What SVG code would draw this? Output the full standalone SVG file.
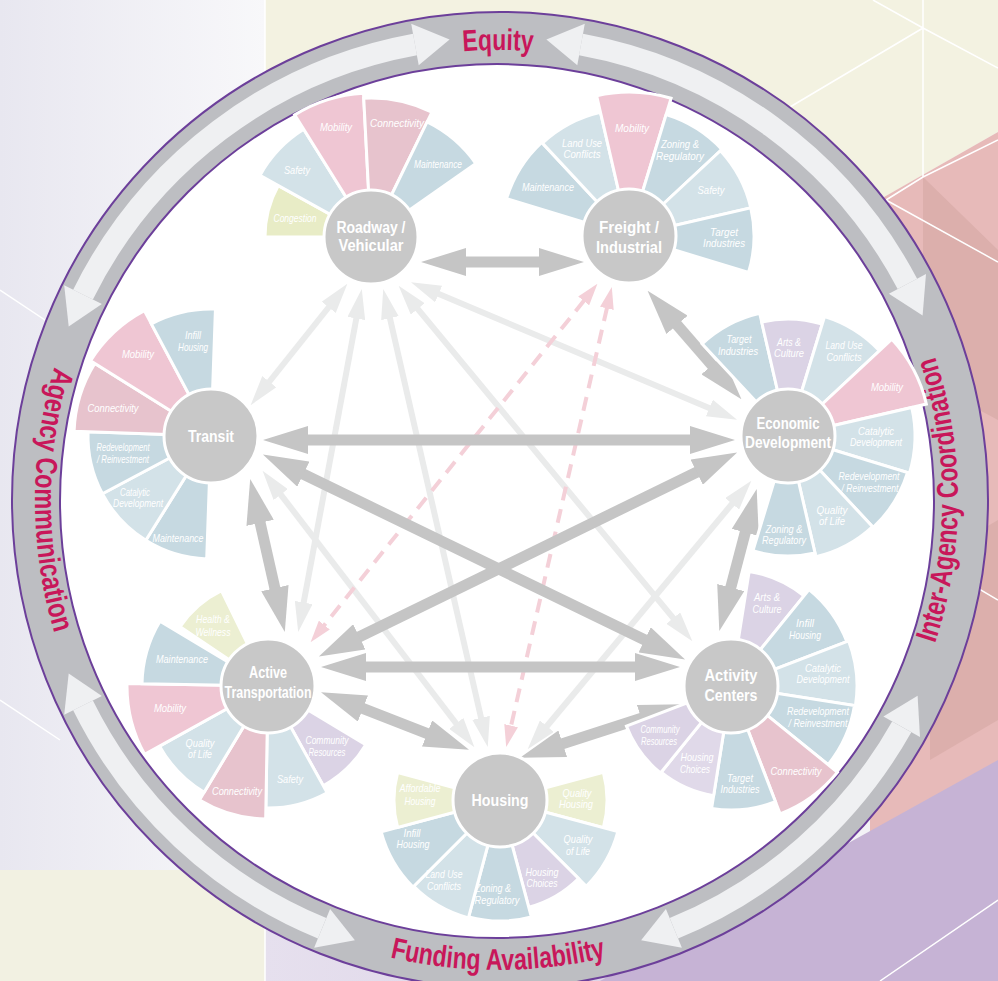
<svg xmlns="http://www.w3.org/2000/svg" width="998" height="981" viewBox="0 0 998 981">
<defs>
<style>
.wl{font-family:'Liberation Sans',Arial,sans-serif;font-style:italic;font-size:10.5px;fill:#fff;text-anchor:middle}
.nl{font-family:'Liberation Sans',Arial,sans-serif;font-weight:bold;font-size:16px;fill:#fff;text-anchor:middle}
.rt{font-family:'Liberation Sans',Arial,sans-serif;font-weight:bold;font-size:30px;fill:#c8175a}
.w{stroke:#fff;stroke-width:3}
.node{fill:#c8c8c8;stroke:#fff;stroke-width:3}
.tk{stroke:#c5c5c5;stroke-width:11;fill:none;marker-start:url(#ht);marker-end:url(#ht)}
.lt{stroke:#eaebeb;stroke-width:6;fill:none;marker-start:url(#hl);marker-end:url(#hl)}
.pk{stroke:#f4d0d8;stroke-width:4;stroke-dasharray:14 9;fill:none;marker-start:url(#hp);marker-end:url(#hp)}
.ra{stroke:#eff0f2;stroke-width:22;fill:none}
.rh{fill:#eff0f2}
.bg{stroke:#fff;stroke-width:1.5;fill:none}
.cb{fill:#c6d9e1}.cl{fill:#d3e2e8}.cm{fill:#efc6d3}.cc{fill:#e7c3cd}.cv{fill:#dbd3e5}.cw{fill:#e0d9e9}.cy{fill:#ecefd2}.cg{fill:#e8ecc6}
</style>
<linearGradient id="gl" x1="0" y1="0" x2="1" y2="0"><stop offset="0" stop-color="#e8e7f0"/><stop offset="1" stop-color="#f8f8fa"/></linearGradient>
<linearGradient id="gb" x1="0" y1="0" x2="1" y2="0"><stop offset="0" stop-color="#e6e0ee"/><stop offset="1" stop-color="#d3c6e0"/></linearGradient>
<marker id="ht" markerUnits="userSpaceOnUse" viewBox="0 0 45 28" markerWidth="45" markerHeight="28" refX="1" refY="14" orient="auto-start-reverse"><path d="M0,0L45,14L0,28Z" fill="#c5c5c5"/></marker>
<marker id="hl" markerUnits="userSpaceOnUse" viewBox="0 0 30 18" markerWidth="30" markerHeight="18" refX="1" refY="9" orient="auto-start-reverse"><path d="M0,0L30,9L0,18Z" fill="#eaebeb"/></marker>
<marker id="hp" markerUnits="userSpaceOnUse" viewBox="0 0 22 14" markerWidth="22" markerHeight="14" refX="1" refY="7" orient="auto-start-reverse"><path d="M0,0L22,7L0,14Z" fill="#f4d0d8"/></marker>
<path id="w30" d="M0,0L100,0A100,100 0 0 1 86.603,50Z" vector-effect="non-scaling-stroke"/>
<path id="w29" d="M0,0L100,0A100,100 0 0 1 87.462,48.481Z" vector-effect="non-scaling-stroke"/>
<path id="pTop" d="M108.3,275A450,450 0 0 1 887.7,275"/>
<path id="pBot" d="M91,735A470,470 0 0 0 905,735"/>
<path id="pRight" d="M728,898.4A460,460 0 0 0 728,101.6"/>
<path id="pLeft" d="M266.5,99A463,463 0 0 0 266.5,901"/>
</defs>

<g id="background">
<rect width="998" height="981" fill="#f3f2f6"/>
<rect x="0" y="0" width="265" height="981" fill="url(#gl)"/>
<polygon points="265,0 998,0 998,132 886,196 265,196" fill="#f3f2e1"/>
<polygon points="870,205 998,132 998,860 870,860" fill="#e7bab9"/>
<polygon points="923,177 998,250 998,420 923,380" fill="#dcafac"/>
<polygon points="930,560 998,520 998,720 930,760" fill="#dcafac"/>
<polygon points="265,900 998,900 998,981 265,981" fill="url(#gb)"/>
<polygon points="600,981 998,760 998,981" fill="#c6b3d5"/>
<polygon points="0,870 265,870 265,981 0,981" fill="#f2f1e2"/>
<path class="bg" d="M873,0L923,28L998,68M923,0V177M923,28L790,107M923,177L998,140M923,177L886,200M886,200L998,262M930,560L998,600M0,290L60,330M0,700L60,740M265,0V981M880,981L998,900"/>
</g>

<g id="ring">
<circle cx="500" cy="500" r="488" fill="#bdbec2" stroke="#6c3f9a" stroke-width="2"/>
<g id="ring-arrows">
<path class="ra" d="M581,44.5A463,463 0 0 1 907.4,283.9"/>
<polygon class="rh" points="546.4,39.5 584.8,23.8 577.3,65.2"/>
<polygon class="rh" points="922.6,315.4 926,274 888.9,293.7"/>
<path class="ra" d="M901.7,726.8A463,463 0 0 1 673.9,928.3"/>
<polygon class="rh" points="917.6,695.7 920,737.1 883.4,716.5"/>
<polygon class="rh" points="641.1,940.3 681.9,947.7 665.9,908.9"/>
<path class="ra" d="M322.1,928.3A463,463 0 0 1 83,705.4"/>
<polygon class="rh" points="354.9,940.3 314.1,947.7 330.1,908.9"/>
<polygon class="rh" points="68.7,673.4 64.2,714.7 101.9,696.1"/>
<path class="ra" d="M83,294.6A463,463 0 0 1 415,44.5"/>
<polygon class="rh" points="68.7,326.6 64.2,285.3 101.9,303.9"/>
<polygon class="rh" points="449.6,39.5 411.2,23.8 418.7,65.2"/>
</g>
<circle cx="497" cy="501" r="437" fill="#fff" stroke="#6c3f9a" stroke-width="2"/>
<text class="rt"><textPath href="#pTop" startOffset="50%" text-anchor="middle" textLength="70" lengthAdjust="spacingAndGlyphs">Equity</textPath></text>
<text class="rt"><textPath href="#pRight" startOffset="50%" text-anchor="middle" textLength="292" lengthAdjust="spacingAndGlyphs">Inter-Agency Coordination</textPath></text>
<text class="rt"><textPath href="#pBot" startOffset="50%" text-anchor="middle" textLength="218" lengthAdjust="spacingAndGlyphs">Funding Availability</textPath></text>
<text class="rt"><textPath href="#pLeft" startOffset="50%" text-anchor="middle" textLength="270" lengthAdjust="spacingAndGlyphs">Agency Communication</textPath></text>
</g>

<g id="connectors">
<line class="lt" x1="329.3" y1="306.5" x2="268.7" y2="382.5"/>
<line class="lt" x1="437.7" y1="293.6" x2="710.3" y2="408.4"/>
<line class="lt" x1="356.5" y1="317.5" x2="303.5" y2="603.5"/>
<line class="lt" x1="389.7" y1="317.2" x2="481.3" y2="718.8"/>
<line class="lt" x1="417.1" y1="308.1" x2="673.9" y2="618.9"/>
<line class="lt" x1="280.2" y1="493.8" x2="456.8" y2="724.2"/>
<line class="lt" x1="732.8" y1="503" x2="546.2" y2="727"/>
<line class="pk" x1="584.3" y1="300.2" x2="323.7" y2="625.8"/>
<line class="pk" x1="607.1" y1="307.4" x2="510.9" y2="726.6"/>
<line class="tk" x1="465" y1="262" x2="540" y2="262"/>
<line class="tk" x1="676.4" y1="324.1" x2="712.6" y2="365.9"/>
<line class="tk" x1="307" y1="440" x2="691" y2="440"/>
<line class="tk" x1="745.5" y1="531.5" x2="730.5" y2="588.5"/>
<line class="tk" x1="642.2" y1="717.9" x2="561.8" y2="744.1"/>
<line class="tk" x1="428" y1="733.8" x2="362" y2="708.2"/>
<line class="tk" x1="275.1" y1="589.1" x2="259.9" y2="521.9"/>
<line class="tk" x1="365" y1="667" x2="636" y2="667"/>
<line class="tk" x1="302.5" y1="473.7" x2="645.5" y2="640.3"/>
<line class="tk" x1="358.4" y1="637.3" x2="697.6" y2="471.7"/>
</g>

<g id="node-roadway">
<use href="#w29" class="w cg" transform="translate(371,237) rotate(180) scale(1.06)"/>
<use href="#w29" class="w cl" transform="translate(371,237) rotate(209) scale(1.27)"/>
<use href="#w29" class="w cm" transform="translate(371,237) rotate(238) scale(1.44)"/>
<use href="#w29" class="w cc" transform="translate(371,237) rotate(267) scale(1.39)"/>
<use href="#w29" class="w cb" transform="translate(371,237) rotate(296) scale(1.28)"/>
<circle class="node" cx="371" cy="237" r="47"/>
<text class="wl" x="295" y="222" textLength="43" lengthAdjust="spacingAndGlyphs">Congestion</text>
<text class="wl" x="297" y="174" textLength="26" lengthAdjust="spacingAndGlyphs">Safety</text>
<text class="wl" x="336" y="131" textLength="32" lengthAdjust="spacingAndGlyphs">Mobility</text>
<text class="wl" x="397" y="127" textLength="54" lengthAdjust="spacingAndGlyphs">Connectivity</text>
<text class="wl" x="438" y="168" textLength="48" lengthAdjust="spacingAndGlyphs">Maintenance</text>
<text class="nl" x="371" y="233" textLength="69" lengthAdjust="spacingAndGlyphs">Roadway /</text>
<text class="nl" x="371" y="251" textLength="65" lengthAdjust="spacingAndGlyphs">Vehicular</text>
</g>

<g id="node-freight">
<use href="#w30" class="w cb" transform="translate(629,236) rotate(197) scale(1.28)"/>
<use href="#w30" class="w cl" transform="translate(629,236) rotate(227) scale(1.27)"/>
<use href="#w30" class="w cm" transform="translate(629,236) rotate(257) scale(1.44)"/>
<use href="#w30" class="w cb" transform="translate(629,236) rotate(287) scale(1.27)"/>
<use href="#w30" class="w cl" transform="translate(629,236) rotate(317) scale(1.25)"/>
<use href="#w30" class="w cb" transform="translate(629,236) rotate(347) scale(1.25)"/>
<circle class="node" cx="629" cy="236" r="47"/>
<text class="wl" x="548" y="191" textLength="52" lengthAdjust="spacingAndGlyphs">Maintenance</text>
<text class="wl" x="582" y="147" textLength="40" lengthAdjust="spacingAndGlyphs">Land Use</text>
<text class="wl" x="582" y="158" textLength="37" lengthAdjust="spacingAndGlyphs">Conflicts</text>
<text class="wl" x="632" y="132" textLength="34" lengthAdjust="spacingAndGlyphs">Mobility</text>
<text class="wl" x="680" y="148" textLength="38" lengthAdjust="spacingAndGlyphs">Zoning &amp;</text>
<text class="wl" x="680" y="160" textLength="48" lengthAdjust="spacingAndGlyphs">Regulatory</text>
<text class="wl" x="711" y="194" textLength="27" lengthAdjust="spacingAndGlyphs">Safety</text>
<text class="wl" x="724" y="236" textLength="28" lengthAdjust="spacingAndGlyphs">Target</text>
<text class="wl" x="724" y="247" textLength="42" lengthAdjust="spacingAndGlyphs">Industries</text>
<text class="nl" x="629" y="233" textLength="60" lengthAdjust="spacingAndGlyphs">Freight /</text>
<text class="nl" x="629" y="253" textLength="66" lengthAdjust="spacingAndGlyphs">Industrial</text>
</g>

<g id="node-transit">
<use href="#w30" class="w cb" transform="translate(211,436) rotate(92) scale(1.23)"/>
<use href="#w30" class="w cl" transform="translate(211,436) rotate(122) scale(1.23)"/>
<use href="#w30" class="w cb" transform="translate(211,436) rotate(152) scale(1.23)"/>
<use href="#w30" class="w cc" transform="translate(211,436) rotate(182) scale(1.37)"/>
<use href="#w30" class="w cm" transform="translate(211,436) rotate(212) scale(1.42)"/>
<use href="#w30" class="w cb" transform="translate(211,436) rotate(242) scale(1.27)"/>
<circle class="node" cx="211" cy="436" r="47"/>
<text class="wl" x="193" y="339" textLength="16" lengthAdjust="spacingAndGlyphs">Infill</text>
<text class="wl" x="193" y="351" textLength="30" lengthAdjust="spacingAndGlyphs">Housing</text>
<text class="wl" x="138" y="358" textLength="32" lengthAdjust="spacingAndGlyphs">Mobility</text>
<text class="wl" x="113" y="412" textLength="51" lengthAdjust="spacingAndGlyphs">Connectivity</text>
<text class="wl" x="123" y="451" textLength="53" lengthAdjust="spacingAndGlyphs">Redevelopment</text>
<text class="wl" x="123" y="463" textLength="52" lengthAdjust="spacingAndGlyphs">/ Reinvestment</text>
<text class="wl" x="135" y="496" textLength="30" lengthAdjust="spacingAndGlyphs">Catalytic</text>
<text class="wl" x="138" y="507" textLength="50" lengthAdjust="spacingAndGlyphs">Development</text>
<text class="wl" x="178" y="542" textLength="51" lengthAdjust="spacingAndGlyphs">Maintenance</text>
<text class="nl" x="211" y="442" textLength="46" lengthAdjust="spacingAndGlyphs">Transit</text>
</g>

<g id="node-economic">
<use href="#w30" class="w cb" transform="translate(788,436) rotate(227) scale(1.26)"/>
<use href="#w30" class="w cv" transform="translate(788,436) rotate(257) scale(1.17)"/>
<use href="#w30" class="w cl" transform="translate(788,436) rotate(287) scale(1.25)"/>
<use href="#w30" class="w cm" transform="translate(788,436) rotate(317) scale(1.42)"/>
<use href="#w30" class="w cl" transform="translate(788,436) rotate(347) scale(1.27)"/>
<use href="#w30" class="w cb" transform="translate(788,436) rotate(17) scale(1.25)"/>
<use href="#w30" class="w cl" transform="translate(788,436) rotate(47) scale(1.24)"/>
<use href="#w30" class="w cb" transform="translate(788,436) rotate(77) scale(1.2)"/>
<circle class="node" cx="788" cy="436" r="47"/>
<text class="wl" x="739" y="343" textLength="25" lengthAdjust="spacingAndGlyphs">Target</text>
<text class="wl" x="738" y="355" textLength="40" lengthAdjust="spacingAndGlyphs">Industries</text>
<text class="wl" x="789" y="346" textLength="24" lengthAdjust="spacingAndGlyphs">Arts &amp;</text>
<text class="wl" x="789" y="357" textLength="30" lengthAdjust="spacingAndGlyphs">Culture</text>
<text class="wl" x="844" y="349" textLength="37" lengthAdjust="spacingAndGlyphs">Land Use</text>
<text class="wl" x="844" y="361" textLength="35" lengthAdjust="spacingAndGlyphs">Conflicts</text>
<text class="wl" x="887" y="391" textLength="32" lengthAdjust="spacingAndGlyphs">Mobility</text>
<text class="wl" x="876" y="435" textLength="36" lengthAdjust="spacingAndGlyphs">Catalytic</text>
<text class="wl" x="876" y="446" textLength="52" lengthAdjust="spacingAndGlyphs">Development</text>
<text class="wl" x="869" y="480" textLength="61" lengthAdjust="spacingAndGlyphs">Redevelopment</text>
<text class="wl" x="870" y="492" textLength="57" lengthAdjust="spacingAndGlyphs">/ Reinvestment</text>
<text class="wl" x="832" y="514" textLength="31" lengthAdjust="spacingAndGlyphs">Quality</text>
<text class="wl" x="832" y="525" textLength="26" lengthAdjust="spacingAndGlyphs">of Life</text>
<text class="wl" x="784" y="533" textLength="37" lengthAdjust="spacingAndGlyphs">Zoning &amp;</text>
<text class="wl" x="784" y="544" textLength="44" lengthAdjust="spacingAndGlyphs">Regulatory</text>
<text class="nl" x="788" y="429" textLength="63" lengthAdjust="spacingAndGlyphs">Economic</text>
<text class="nl" x="788" y="448" textLength="86" lengthAdjust="spacingAndGlyphs">Development</text>
</g>

<g id="node-active">
<use href="#w30" class="w cv" transform="translate(268,686) rotate(31) scale(1.14)"/>
<use href="#w30" class="w cl" transform="translate(268,686) rotate(61) scale(1.22)"/>
<use href="#w30" class="w cc" transform="translate(268,686) rotate(91) scale(1.33)"/>
<use href="#w30" class="w cl" transform="translate(268,686) rotate(121) scale(1.24)"/>
<use href="#w30" class="w cm" transform="translate(268,686) rotate(151) scale(1.41)"/>
<use href="#w30" class="w cb" transform="translate(268,686) rotate(181) scale(1.26)"/>
<use href="#w30" class="w cy" transform="translate(268,686) rotate(214) scale(1.06)"/>
<circle class="node" cx="268" cy="686" r="47"/>
<text class="wl" x="213" y="623" textLength="34" lengthAdjust="spacingAndGlyphs">Health &amp;</text>
<text class="wl" x="213" y="636" textLength="35" lengthAdjust="spacingAndGlyphs">Wellness</text>
<text class="wl" x="182" y="663" textLength="52" lengthAdjust="spacingAndGlyphs">Maintenance</text>
<text class="wl" x="170" y="712" textLength="32" lengthAdjust="spacingAndGlyphs">Mobility</text>
<text class="wl" x="200" y="747" textLength="29" lengthAdjust="spacingAndGlyphs">Quality</text>
<text class="wl" x="200" y="758" textLength="24" lengthAdjust="spacingAndGlyphs">of Life</text>
<text class="wl" x="237" y="795" textLength="50" lengthAdjust="spacingAndGlyphs">Connectivity</text>
<text class="wl" x="290" y="783" textLength="26" lengthAdjust="spacingAndGlyphs">Safety</text>
<text class="wl" x="327" y="744" textLength="43" lengthAdjust="spacingAndGlyphs">Community</text>
<text class="wl" x="327" y="756" textLength="37" lengthAdjust="spacingAndGlyphs">Resources</text>
<text class="nl" x="268" y="678" textLength="38" lengthAdjust="spacingAndGlyphs">Active</text>
<text class="nl" x="268" y="698" textLength="87" lengthAdjust="spacingAndGlyphs">Transportation</text>
</g>

<g id="node-activity">
<use href="#w30" class="w cv" transform="translate(731,686) rotate(279) scale(1.16)"/>
<use href="#w30" class="w cb" transform="translate(731,686) rotate(309) scale(1.24)"/>
<use href="#w30" class="w cl" transform="translate(731,686) rotate(339) scale(1.26)"/>
<use href="#w30" class="w cb" transform="translate(731,686) rotate(9) scale(1.25)"/>
<use href="#w30" class="w cc" transform="translate(731,686) rotate(39) scale(1.37)"/>
<use href="#w30" class="w cb" transform="translate(731,686) rotate(69) scale(1.24)"/>
<use href="#w30" class="w cw" transform="translate(731,686) rotate(99) scale(1.11)"/>
<use href="#w30" class="w cv" transform="translate(731,686) rotate(129) scale(1.12)"/>
<circle class="node" cx="731" cy="686" r="47"/>
<text class="wl" x="767" y="601" textLength="26" lengthAdjust="spacingAndGlyphs">Arts &amp;</text>
<text class="wl" x="767" y="613" textLength="29" lengthAdjust="spacingAndGlyphs">Culture</text>
<text class="wl" x="805" y="627" textLength="18" lengthAdjust="spacingAndGlyphs">Infill</text>
<text class="wl" x="805" y="639" textLength="32" lengthAdjust="spacingAndGlyphs">Housing</text>
<text class="wl" x="823" y="672" textLength="36" lengthAdjust="spacingAndGlyphs">Catalytic</text>
<text class="wl" x="823" y="683" textLength="53" lengthAdjust="spacingAndGlyphs">Development</text>
<text class="wl" x="818" y="715" textLength="62" lengthAdjust="spacingAndGlyphs">Redevelopment</text>
<text class="wl" x="818" y="727" textLength="59" lengthAdjust="spacingAndGlyphs">/ Reinvestment</text>
<text class="wl" x="796" y="775" textLength="51" lengthAdjust="spacingAndGlyphs">Connectivity</text>
<text class="wl" x="740" y="782" textLength="26" lengthAdjust="spacingAndGlyphs">Target</text>
<text class="wl" x="740" y="793" textLength="39" lengthAdjust="spacingAndGlyphs">Industries</text>
<text class="wl" x="697" y="761" textLength="33" lengthAdjust="spacingAndGlyphs">Housing</text>
<text class="wl" x="695" y="773" textLength="30" lengthAdjust="spacingAndGlyphs">Choices</text>
<text class="wl" x="660" y="733" textLength="39" lengthAdjust="spacingAndGlyphs">Community</text>
<text class="wl" x="659" y="745" textLength="36" lengthAdjust="spacingAndGlyphs">Resources</text>
<text class="nl" x="731" y="681" textLength="53" lengthAdjust="spacingAndGlyphs">Activity</text>
<text class="nl" x="731" y="701" textLength="53" lengthAdjust="spacingAndGlyphs">Centers</text>
</g>

<g id="node-housing">
<use href="#w30" class="w cy" transform="translate(500,800) rotate(345) scale(1.07)"/>
<use href="#w30" class="w cl" transform="translate(500,800) rotate(15) scale(1.22)"/>
<use href="#w30" class="w cv" transform="translate(500,800) rotate(45) scale(1.11)"/>
<use href="#w30" class="w cb" transform="translate(500,800) rotate(75) scale(1.21)"/>
<use href="#w30" class="w cl" transform="translate(500,800) rotate(105) scale(1.22)"/>
<use href="#w30" class="w cb" transform="translate(500,800) rotate(135) scale(1.23)"/>
<use href="#w30" class="w cy" transform="translate(500,800) rotate(165) scale(1.06)"/>
<circle class="node" cx="500" cy="800" r="47"/>
<text class="wl" x="420" y="792" textLength="41" lengthAdjust="spacingAndGlyphs">Affordable</text>
<text class="wl" x="420" y="805" textLength="31" lengthAdjust="spacingAndGlyphs">Housing</text>
<text class="wl" x="577" y="797" textLength="29" lengthAdjust="spacingAndGlyphs">Quality</text>
<text class="wl" x="576" y="808" textLength="34" lengthAdjust="spacingAndGlyphs">Housing</text>
<text class="wl" x="412" y="837" textLength="17" lengthAdjust="spacingAndGlyphs">Infill</text>
<text class="wl" x="413" y="848" textLength="33" lengthAdjust="spacingAndGlyphs">Housing</text>
<text class="wl" x="444" y="878" textLength="37" lengthAdjust="spacingAndGlyphs">Land Use</text>
<text class="wl" x="444" y="890" textLength="34" lengthAdjust="spacingAndGlyphs">Conflicts</text>
<text class="wl" x="493" y="892" textLength="36" lengthAdjust="spacingAndGlyphs">Zoning &amp;</text>
<text class="wl" x="497" y="904" textLength="45" lengthAdjust="spacingAndGlyphs">Regulatory</text>
<text class="wl" x="542" y="876" textLength="33" lengthAdjust="spacingAndGlyphs">Housing</text>
<text class="wl" x="542" y="887" textLength="31" lengthAdjust="spacingAndGlyphs">Choices</text>
<text class="wl" x="578" y="843" textLength="29" lengthAdjust="spacingAndGlyphs">Quality</text>
<text class="wl" x="578" y="855" textLength="24" lengthAdjust="spacingAndGlyphs">of Life</text>
<text class="nl" x="500" y="806" textLength="57" lengthAdjust="spacingAndGlyphs">Housing</text>
</g>
</svg>
